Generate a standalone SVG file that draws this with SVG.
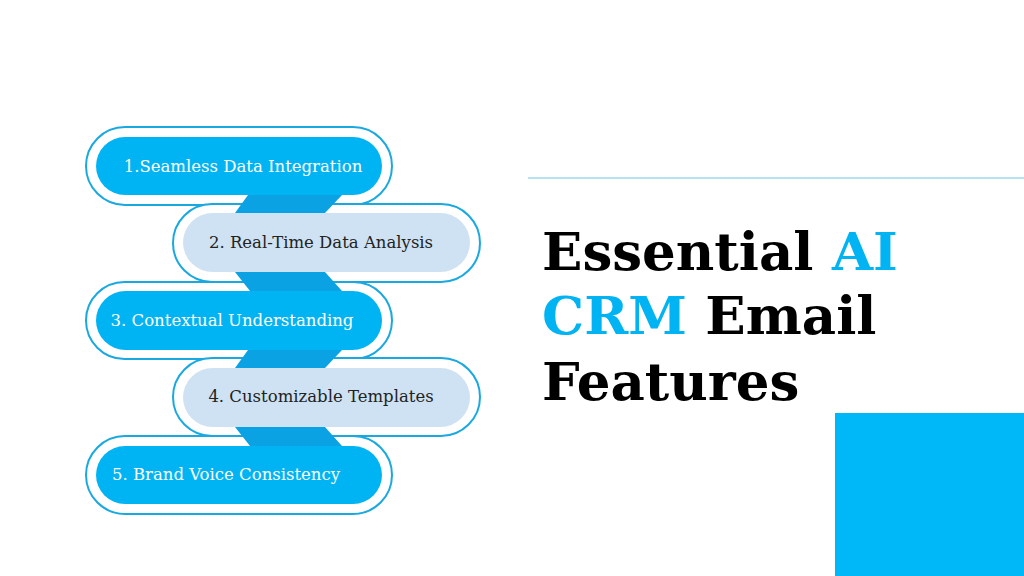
<svg xmlns="http://www.w3.org/2000/svg" width="1024" height="576" viewBox="0 0 1024 576">
<style>
.o{fill:#fff;stroke:#1aa8e0;stroke-width:2}
.b{fill:#00b4f4}
.l{fill:#cfe2f3}
.c{fill:#0aa2e2}
.tw{font-family:"DejaVu Serif",serif;font-size:16.5px;fill:#fff}
.tk{font-family:"DejaVu Serif",serif;font-size:16.5px;fill:#222}
.h{font-family:"DejaVu Serif",serif;font-weight:bold;font-size:53px;fill:#000}
</style>
<rect width="1024" height="576" fill="#fff"/>
<g id="n1"><rect class="o" x="86" y="127" width="306" height="78" rx="39"/><rect class="b" x="96" y="137" width="286" height="58" rx="29"/><text class="tw" x="243" y="172" text-anchor="middle">1.Seamless Data Integration</text></g>
<g id="n2"><rect class="o" x="173" y="204" width="307" height="78" rx="39"/><rect class="l" x="183" y="213" width="287" height="59" rx="29.5"/><text class="tk" x="321" y="248" text-anchor="middle">2. Real-Time Data Analysis</text></g>
<g id="n3"><rect class="o" x="86" y="282" width="306" height="77" rx="38.5"/><rect class="b" x="96" y="291" width="286" height="59" rx="29.5"/><text class="tw" x="232" y="326" text-anchor="middle">3. Contextual Understanding</text></g>
<g id="n4"><rect class="o" x="173" y="358" width="307" height="78" rx="39"/><rect class="l" x="183" y="368" width="287" height="59" rx="29.5"/><text class="tk" x="321" y="402" text-anchor="middle">4. Customizable Templates</text></g>
<g id="n5"><rect class="o" x="86" y="436" width="306" height="78" rx="39"/><rect class="b" x="96" y="446" width="286" height="58" rx="29"/><text class="tw" x="226" y="480" text-anchor="middle">5. Brand Voice Consistency</text></g>
<g id="connectors">
<polygon class="c" points="248,195 342,195 325,213 235,213"/>
<polygon class="c" points="235,272 325,272 342,291 250,291"/>
<polygon class="c" points="248,350 342,350 325,368 235,368"/>
<polygon class="c" points="235,427 325,427 342,446 250,446"/>
</g>
<line x1="528" y1="178" x2="1024" y2="178" stroke="#9fd8ef" stroke-width="1.5"/>
<rect x="835" y="413" width="189" height="163" fill="#00b8f8"/>
<text class="h" x="542" y="270">Essential <tspan fill="#00b4f4">AI</tspan></text>
<text class="h" x="542" y="334"><tspan fill="#00b4f4">CRM</tspan> Email</text>
<text class="h" x="542" y="400">Features</text>
</svg>
